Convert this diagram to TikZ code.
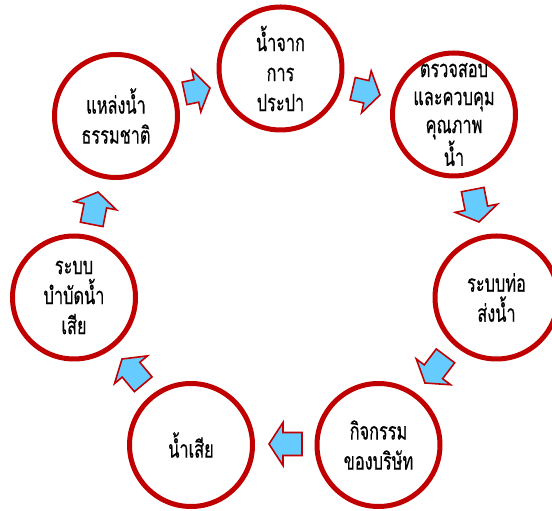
\documentclass[tikz,border=0pt]{standalone}
\usepackage{fontspec}
\newfontfamily\thaifont[Script=Thai,FakeStretch=0.68,FakeBold=0.4]{Loma}
\definecolor{ringred}{HTML}{C00000}
\definecolor{arrowblue}{HTML}{66CCFF}
\tikzset{
  ring/.style={circle, draw=ringred, line width=5pt, fill=white, minimum size=123pt, inner sep=0pt},
  txt/.style={align=center, inner sep=0pt, font=\thaifont\fontsize{24}{30}\selectfont},
  txtb/.style={align=center, inner sep=0pt, font=\thaifont\fontsize{24}{28}\selectfont},
  arrowline/.style={draw=ringred, line width=1.6pt, fill=arrowblue, line join=miter},
  pics/barrow/.style={code={
    \path[arrowline] (0,0) -- (-14,21.5) -- (-14,11.5) -- (-#1,11.5) -- (-#1,-11.5) -- (-14,-11.5) -- (-14,-21.5) -- cycle;
  }}
}
\begin{document}
\begin{tikzpicture}[x=1pt,y=1pt]
\useasboundingbox (0,0) rectangle (552,511);
% circles
\node[ring] (c1) at (116,395) {};
\node[ring] (c2) at (280.5,442.5) {};
\node[ring] (c3) at (454,396.5) {};
\node[ring] (c4) at (496.5,213.5) {};
\node[ring] (c5) at (378.5,66) {};
\node[ring] (c6) at (191,66) {};
\node[ring] (c7) at (74,213.5) {};
% texts
\node[txt] (t1) at (c1) {แหล่งน้ำ\\ธรรมชาติ};
\node[txt] (t2) at (c2) {น้ำจาก\\การ\\ประปา};
\node[txtb] (t3) at (c3) {ตรวจสอบ\\และควบคุม\\คุณภาพ\\น้ำ};
\node[txt] (t4) at (c4) {ระบบท่อ\\ส่งน้ำ};
\node[txt] (t5) at (c5) {กิจกรรม\\ของบริษัท};
\node[txt] (t6) at (c6) {น้ำเสีย};
\node[txt] (t7) at (c7) {ระบบ\\บำบัดน้ำ\\เสีย};
% block arrows
\pic[rotate=12] (a1) at (210,423) {barrow=26};
\pic[rotate=-13] (a2) at (380,416) {barrow=28};
\pic[rotate=-79] (a3) at (479,289) {barrow=33};
\pic[rotate=-127] (a4) at (425,128) {barrow=34};
\pic[rotate=180] (a5) at (269,67) {barrow=33};
\pic[rotate=130] (a6) at (122,152) {barrow=33};
\pic[rotate=79] (a7) at (98,319) {barrow=33};
\end{tikzpicture}
\end{document}
